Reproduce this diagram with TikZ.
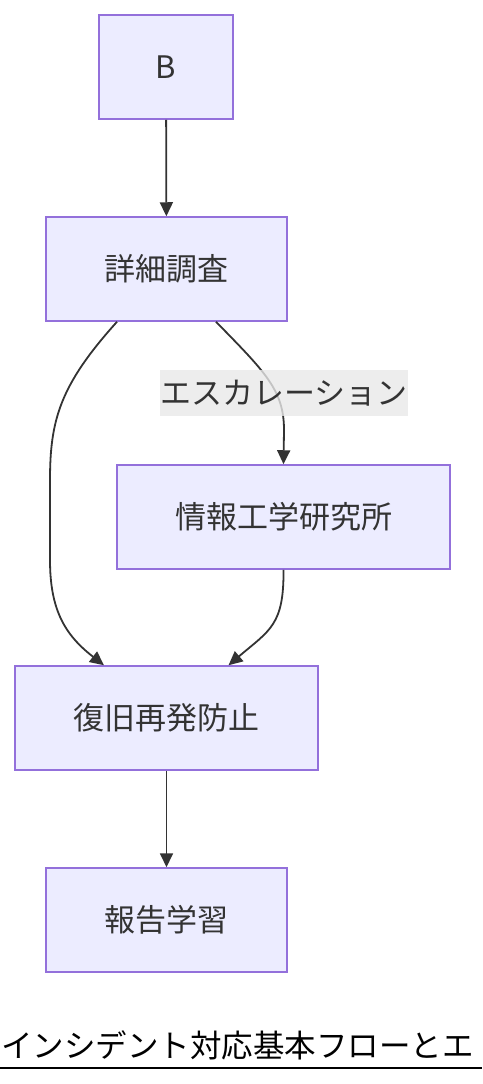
\documentclass[tikz,border=0pt]{standalone}
\usepackage{fontspec}
\setmainfont{Noto Sans CJK JP}
\usetikzlibrary{arrows.meta}
\definecolor{boxfill}{HTML}{ECECFF}
\definecolor{boxline}{HTML}{9370DB}
\definecolor{inkgray}{HTML}{333333}
\definecolor{labelbg}{HTML}{E8E8E8}
\tikzstyle{phase}=[rectangle,draw=boxline,fill=boxfill,line width=1.5pt,text=inkgray,minimum height=104pt,font=\fontsize{31}{37}\selectfont]
\tikzstyle{flow}=[draw=inkgray,line width=1.8pt,-{Triangle[length=14pt,width=13pt]}]
\tikzstyle{tag}=[rectangle,fill=labelbg,fill opacity=0.8,text opacity=1,text=inkgray,inner xsep=0pt,minimum height=46pt,font=\fontsize{31}{37}\selectfont]

\begin{document}
\begin{tikzpicture}[x=1pt,y=-1pt,inner sep=1mm]
    \useasboundingbox (0,0) rectangle (482,1084);
    \clip (0,0) rectangle (482,1084);
    \node[phase,minimum width=134pt] (B) at (166,67) {B};
    \node[phase,minimum width=241pt] (investigate) at (166.5,269) {詳細調査};
    \node[phase,minimum width=333pt] (institute) at (283.5,517) {情報工学研究所};
    \node[phase,minimum width=303pt] (recovery) at (166.5,718) {復旧再発防止};
    \node[phase,minimum width=241pt] (report) at (166.5,920) {報告学習};
    \draw[flow] (B) -- (investigate);
    \draw[flow] ([xshift=-49.5pt]investigate.south) .. controls (60,385) and (50,420) .. (50,480) -- (50,560) .. controls (50,610) and (65,635) .. ([xshift=-62.5pt]recovery.north);
    \draw[flow] ([xshift=49.5pt]investigate.south) .. controls (265,372) and (284,390) .. (284,430) -- (institute.north);
    \node[tag] (escalate) at (284,393) {エスカレーション};
    \draw[flow] (institute.south) .. controls (284,625) and (270,630) .. ([xshift=62pt]recovery.north);
    \draw[flow] (recovery) -- (report);
    % title, cut off at the edges
    \node[anchor=base west,inner sep=0pt,font=\fontsize{31.5}{38}\selectfont] (title) at (1,1057) {インシデント対応基本フローとエ};
    \draw[line width=2pt] (0,1068) -- (482,1068);
\end{tikzpicture}
\end{document}
